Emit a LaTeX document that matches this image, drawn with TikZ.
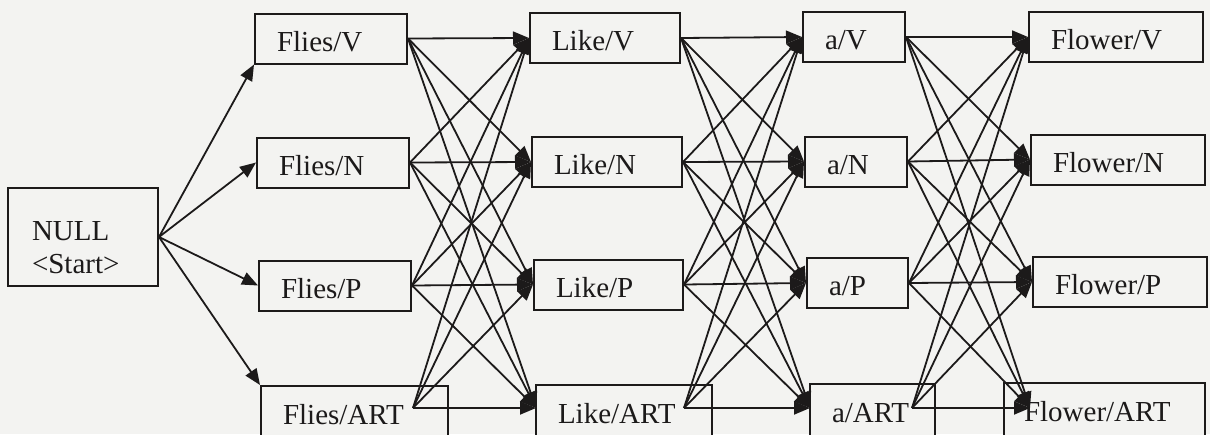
\documentclass[tikz,border=0pt]{standalone}
\usepackage{fontspec}
\setmainfont{Liberation Serif}
\usetikzlibrary{arrows.meta}
\definecolor{ink}{RGB}{28,26,26}
\definecolor{paper}{RGB}{243,243,241}
\begin{document}
\begin{tikzpicture}[x=1pt,y=-1pt,
  base/.style={draw=ink, line width=2pt, fill=paper, inner xsep=22pt, inner ysep=0pt,
    align=left, font=\fontsize{29}{33}\selectfont, text=ink},
  box/.style={base, minimum height=50pt, text height=25pt, text depth=0pt},
  artbox/.style={base, minimum height=56pt, text height=20pt, text depth=0pt},
  arr/.style={draw=ink, line width=1.8pt, -{Triangle[length=16pt,width=13pt]}}]
\fill[paper] (0,0) rectangle (1210,434);
\useasboundingbox (0,0) rectangle (1210,434);
% start node
\node[base, text width=102pt, minimum height=98pt, inner xsep=24pt, text depth=12pt] (null) at (83,237) {NULL\\<Start>};
% Flies column
\node[box, text width=108pt] (fv) at (331,38.5) {Flies/V};
\node[box, text width=108pt] (fn) at (333,162.5) {Flies/N};
\node[box, text width=108pt] (fp) at (335,285.5) {Flies/P};
\node[artbox, text width=143pt] (ft) at (354.5,414) {Flies/ART};
% Like column
\node[box, text width=106pt] (lv) at (605,38) {Like/V};
\node[box, text width=106pt] (ln) at (607,162) {Like/N};
\node[box, text width=105pt] (lp) at (608.5,284.5) {Like/P};
\node[artbox, text width=132pt] (lt) at (624,413) {Like/ART};
% a column
\node[box, text width=58pt] (av) at (854,37) {a/V};
\node[box, text width=58pt] (an) at (856,161.5) {a/N};
\node[box, text width=57pt] (ap) at (857.5,283) {a/P};
\node[artbox, text width=81pt] (at) at (872.5,412) {a/ART};
% Flower column
\node[box, text width=130pt] (wv) at (1116,37) {Flower/V};
\node[box, text width=130pt] (wn) at (1118,159.5) {Flower/N};
\node[box, text width=130pt] (wp) at (1120,282) {Flower/P};
\node[artbox, text width=161pt, inner xsep=20pt] (wt) at (1104.5,411) {Flower/ART};
% connector points of the ART row
\coordinate (fto) at (413,408);
\coordinate (lto) at (684,408);
\coordinate (ato) at (912,408);
\coordinate (lti) at (536,408);
\coordinate (ati) at (810,408);
\coordinate (wti) at (1030,408);
% from start
\draw[arr] (null.east) -- (fv.south west);
\draw[arr] (null.east) -- (fn.west);
\draw[arr] (null.east) -- (fp.west);
\draw[arr] (null.east) -- (ft.north west);
% transitions
\foreach \s in {fv.east,fn.east,fp.east,fto}
  \foreach \t in {lv.west,ln.west,lp.west,lti}
    \draw[arr] (\s) -- (\t);
\foreach \s in {lv.east,ln.east,lp.east,lto}
  \foreach \t in {av.west,an.west,ap.west,ati}
    \draw[arr] (\s) -- (\t);
\foreach \s in {av.east,an.east,ap.east,ato}
  \foreach \t in {wv.west,wn.west,wp.west,wti}
    \draw[arr] (\s) -- (\t);
\end{tikzpicture}
\end{document}
